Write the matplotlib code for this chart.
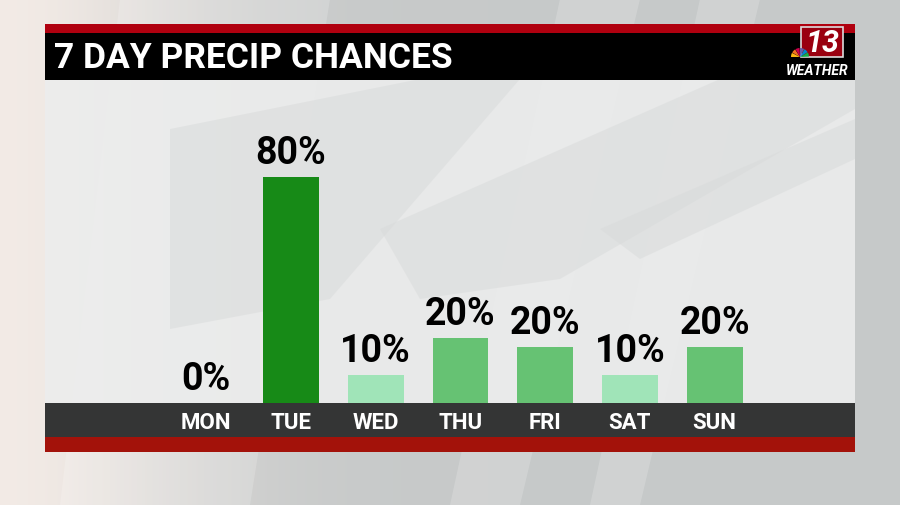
import numpy as np
import matplotlib
matplotlib.use("Agg")
import matplotlib.pyplot as plt
from matplotlib.patches import Rectangle, Polygon, Wedge

# Data
days = ["MON", "TUE", "WED", "THU", "FRI", "SAT", "SUN"]
chance = [0, 80, 10, 23, 20, 10, 20]          # bar heights
chance_labels = ["0%", "80%", "10%", "20%", "20%", "10%", "20%"]
bar_colors = ["#66c273", "#178a17", "#a0e4b8", "#66c273", "#66c273", "#a0e4b8", "#66c273"]

FONT = ["Roboto", "DejaVu Sans"]
W, H = 900, 506
fig = plt.figure(figsize=(W / 100, H / 100), dpi=100)

# background in pixel coords
bg = fig.add_axes([0, 0, 1, 1])
bg.set_xlim(0, W)
bg.set_ylim(H, 0)
bg.axis("off")

# grey gradient, warm on the left
xx = np.linspace(0, 1, 300)
r = 0.78 + 0.17 * np.exp(-(xx / 0.22) ** 2)
g = 0.79 + 0.13 * np.exp(-(xx / 0.22) ** 2)
b = 0.79 + 0.11 * np.exp(-(xx / 0.22) ** 2)
grad = np.repeat(np.dstack([r, g, b]), 2, axis=0)
bg.imshow(grad, extent=[0, W, H, 0], aspect="auto", zorder=0)

# light shards
shards = [
    [(120, 0), (330, 0), (250, 506), (60, 506)],
    [(560, 0), (640, 0), (520, 506), (450, 506)],
    [(700, 0), (760, 0), (640, 506), (590, 506)],
]
for s in shards:
    bg.add_patch(Polygon(s, closed=True, facecolor="white", alpha=0.18, lw=0, zorder=1))

# main panel
bg.add_patch(Rectangle((45, 80), 810, 324, facecolor="#eceded", alpha=0.9, lw=0, zorder=2))
panel_shapes = [
    [(170, 130), (420, 80), (520, 80), (330, 300), (170, 330)],
    [(380, 230), (720, 80), (855, 80), (855, 110), (560, 280), (420, 300)],
    [(600, 230), (855, 120), (855, 160), (640, 260)],
]
for s in panel_shapes:
    bg.add_patch(Polygon(s, closed=True, facecolor="#d8dada", alpha=0.5, lw=0, zorder=3))

# title bar
bg.add_patch(Rectangle((45, 25), 810, 9, facecolor="#b0000f", lw=0, zorder=4))
bg.add_patch(Rectangle((45, 34), 810, 47, facecolor="black", lw=0, zorder=4))
bg.text(54, 58, "7 DAY PRECIP CHANCES", color="white", fontsize=25.5, fontweight="bold",
        family=FONT, va="center", ha="left", zorder=5)

# logo
bg.add_patch(Rectangle((801, 28), 42, 30, facecolor="#9a0010", edgecolor="#dddddd", lw=1.2, zorder=5))
bg.text(823, 43, "13", color="white", fontsize=22, fontweight="bold", style="italic",
        family=FONT, ha="center", va="center", zorder=6)
peacock = ["#fcb711", "#f37021", "#cc004c", "#6460aa", "#0089d0", "#0db14b"]
for i, c in enumerate(peacock):
    bg.add_patch(Wedge((800, 58), 9, 180 + i * 30, 180 + (i + 1) * 30 - 3, facecolor=c, lw=0, zorder=7))
bg.text(817, 71, "WEATHER", color="white", fontsize=10, fontweight="bold", style="italic",
        family=FONT, ha="center", va="center", zorder=6)

# bottom band and red strip
bg.add_patch(Rectangle((45, 404), 810, 34, facecolor="#343535", lw=0, zorder=4))
bg.add_patch(Rectangle((45, 438), 810, 15, facecolor="#a3120a", lw=0, zorder=4))

# bars
ax = fig.add_axes([164 / W, (H - 404) / H, (757 - 164) / W, 324 / H])
ax.set_facecolor("none")
x = np.arange(len(days))
ax.bar(x, chance, width=0.66, color=bar_colors, zorder=3)
for xi, v, lab in zip(x, chance, chance_labels):
    ax.text(xi, v + 2.0, lab, ha="center", va="bottom", fontsize=27, fontweight="bold",
            family=FONT, color="black")
ax.set_xlim(-0.5, 6.5)
ax.set_ylim(0, 114.7)
ax.set_xticks(x, days)
ax.tick_params(axis="x", length=0, pad=6, colors="white", labelsize=16)
for t in ax.get_xticklabels():
    t.set_fontweight("bold")
    t.set_family(FONT)
ax.set_yticks([])
for sp in ax.spines.values():
    sp.set_visible(False)

fig.savefig("out.png", dpi=100)
